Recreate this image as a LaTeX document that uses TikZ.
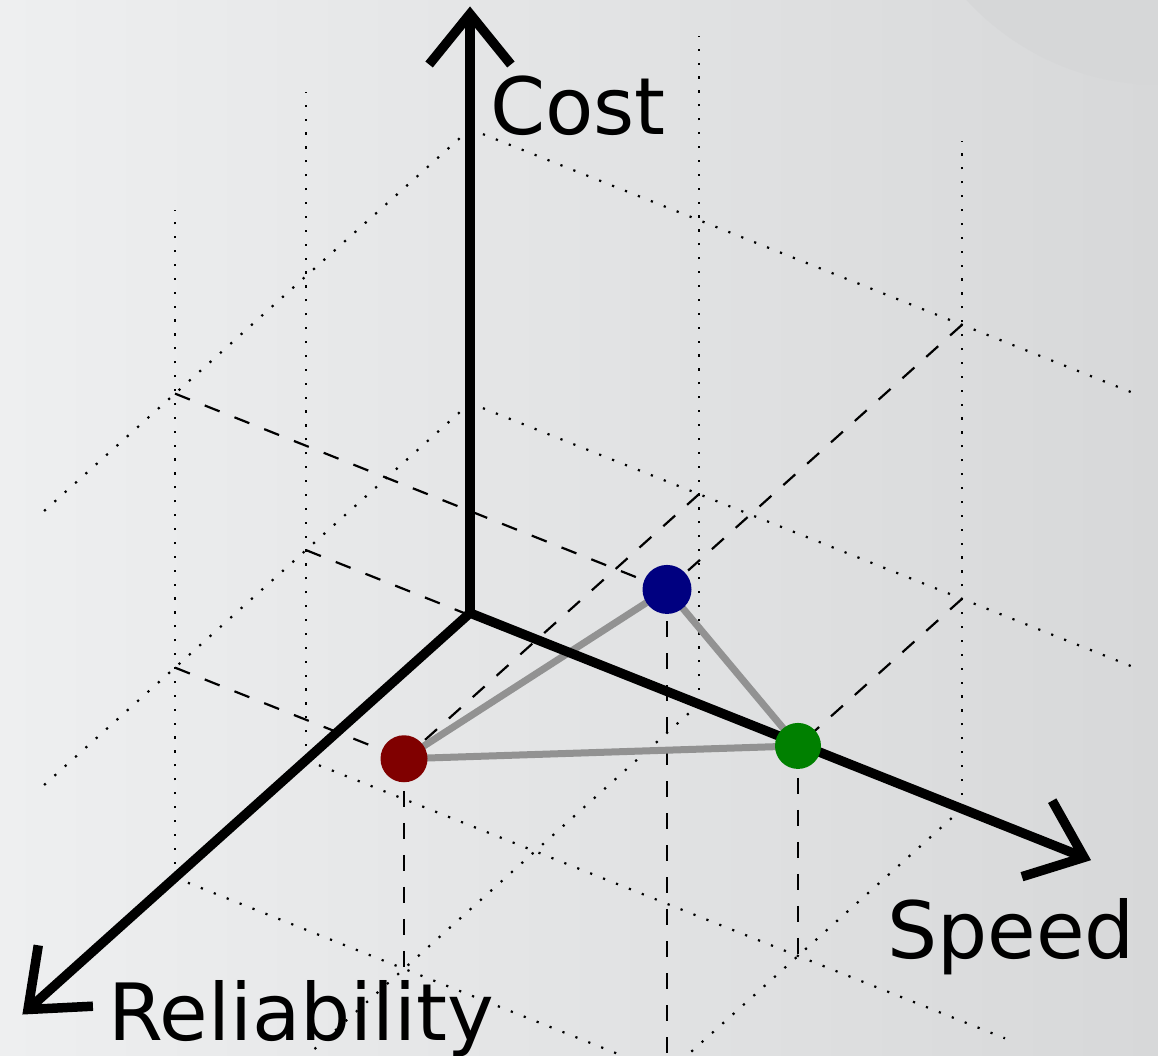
\documentclass[tikz,border=0pt]{standalone}
\usepackage{fontspec}
\setmainfont{DejaVu Sans}
\usetikzlibrary{calc}
\definecolor{bgleft}{RGB}{238,239,240}
\definecolor{bgright}{RGB}{215,216,217}
\definecolor{discin}{RGB}{214,215,216}
\definecolor{discout}{RGB}{196,197,199}
\definecolor{linkgray}{RGB}{146,146,146}
\definecolor{ptred}{RGB}{128,0,0}
\definecolor{ptblue}{RGB}{0,0,128}
\definecolor{ptgreen}{RGB}{0,128,0}
\pgfdeclareradialshading{discshade}{\pgfpoint{0bp}{0bp}}{color(0bp)=(discin); color(30bp)=(discin); color(50bp)=(discout)}
\begin{document}
\begin{tikzpicture}[x=1pt,y=-1pt,
  dotline/.style={line width=2.2pt, dash pattern=on 2.2pt off 11.7pt},
  dashline/.style={line width=2.2pt, dash pattern=on 16pt off 16pt},
  link/.style={line width=7pt, draw=linkgray},
  axis/.style={line width=9.5pt, line join=miter, miter limit=10},
  dot/.style={circle, inner sep=0pt, minimum size=48pt},
  lab/.style={inner sep=0pt, anchor=base west, font=\fontsize{79}{95}\selectfont}]
\useasboundingbox (0,0) rectangle (1158,1056);
\clip (0,0) rectangle (1158,1056);
\shade[left color=bgleft, right color=bgright] (0,0) rectangle (1158,1056);
\shade[shading=discshade] (1160,-178) circle (263pt);

\begin{scope}[shift={(470pt,-613pt)}, x={(1pt,-0.398pt)}, y={(-1pt,-0.897pt)}, z={(0pt,1pt)}]
  % key coordinates
  \coordinate (O) at (0,0,0);
  \coordinate (red) at (229,295,210);
  \coordinate (blue) at (492,295,484);
  \coordinate (green) at (492,164,210);
  \coordinate (redS) at (0,295,210);
  \coordinate (redR) at (229,0,210);
  \coordinate (redC) at (229,295,0);
  \coordinate (blueS) at (0,295,484);
  \coordinate (blueR) at (492,0,484);
  \coordinate (blueC) at (492,295,0);
  \coordinate (greenS) at (0,164,210);
  \coordinate (greenR) at (492,0,210);
  \coordinate (greenC) at (492,164,0);
  \coordinate (ctip) at (0,0,599);
  \coordinate (stip) at (614,0,0);
  \coordinate (rtip) at (0,442,0);

  % dotted grid: reliability-cost wall
  \draw[dotline] (0,164,0) -- (0,164,668);
  \draw[dotline] (0,295,0) -- (0,295,668);
  \draw[dotline] (0,0,210) -- (0,434,210);
  \draw[dotline] (0,0,484) -- (0,434,484);
  % speed-cost wall
  \draw[dotline] (229,0,0) -- (229,0,668);
  \draw[dotline] (492,0,0) -- (492,0,668);
  \draw[dotline] (0,0,210) -- (671,0,210);
  \draw[dotline] (0,0,484) -- (671,0,484);
  % ground
  \draw[dotline] (0,164,0) -- (699,164,0);
  \draw[dotline] (0,295,0) -- (699,295,0);
  \draw[dotline] (229,0,0) -- (229,460,0);
  \draw[dotline] (492,0,0) -- (492,460,0);

  % dashed projections
  \draw[dashline] (redS) -- (red);
  \draw[dashline] (redR) -- (red);
  \draw[dashline] (red) -- (redC);
  \draw[dashline] (blueS) -- (blue);
  \draw[dashline] (blueR) -- (blue);
  \draw[dashline] (blue) -- (blueC);
  \draw[dashline] (greenS) -- (green);
  \draw[dashline] (greenR) -- (green);
  \draw[dashline] (green) -- (greenC);

  % gray triangle
  \draw[link] (red) -- (blue);
  \draw[link] (blue) -- (green);
  \draw[link] (red) -- (green);

  % axes
  \draw[axis] (stip) -- (O) -- (rtip);
  \draw[axis] (O) -- (ctip);
  \draw[axis] ($(ctip)!65pt!39:(O)$) -- (ctip) -- ($(ctip)!65pt!-39:(O)$);
  \draw[axis] ($(stip)!65pt!39:(O)$) -- (stip) -- ($(stip)!65pt!-39:(O)$);
  \draw[axis] ($(rtip)!65pt!39:(O)$) -- (rtip) -- ($(rtip)!65pt!-39:(O)$);

  % points
  \node[dot, fill=ptred, minimum size=47pt] (redpt) at (red) {};
  \node[dot, fill=ptblue, minimum size=49pt] (bluept) at (blue) {};
  \node[dot, fill=ptgreen, minimum size=46pt] (greenpt) at (green) {};
\end{scope}

\node[lab] (costlab) at (490,135) {Cost};
\node[lab] (speedlab) at (887,958) {Speed};
\node[lab] (rellab) at (108,1040) {Reliability};
\end{tikzpicture}
\end{document}
